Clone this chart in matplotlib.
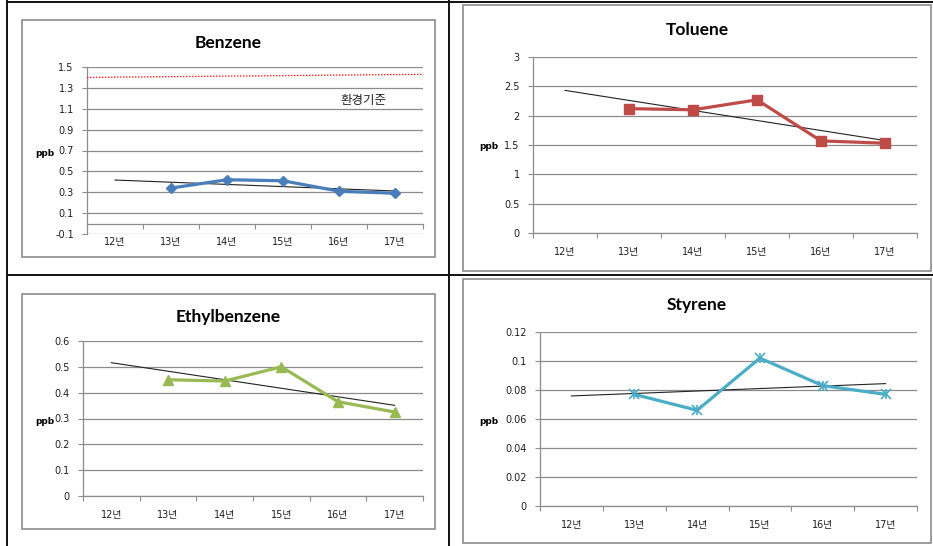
import numpy as np
import matplotlib
matplotlib.use("Agg")
import matplotlib.pyplot as plt
from matplotlib.lines import Line2D
from matplotlib.patches import Rectangle
from matplotlib.ticker import FuncFormatter

plt.rcParams['font.family'] = ['DejaVu Sans', 'Noto Sans CJK KR']

years = ['12년', '13년', '14년', '15년', '16년', '17년']

# annual averages (ppb), no survey in 12년
benzene = [np.nan, 0.34, 0.42, 0.41, 0.31, 0.29]
toluene = [np.nan, 2.12, 2.10, 2.27, 1.57, 1.53]
ethylbenzene = [np.nan, 0.45, 0.445, 0.50, 0.365, 0.325]
styrene = [np.nan, 0.077, 0.066, 0.102, 0.083, 0.077]

# benzene environmental standard line (start, end)
benzene_std = [1.40, 1.43]
std_label = '환경기준'

W, H = 933, 546
fig = plt.figure(figsize=(W / 100, H / 100), dpi=100)


def px_axes(left, top, right, bottom):
    return fig.add_axes([left / W, 1 - bottom / H, (right - left) / W, (bottom - top) / H])


def fig_text(x, y, s, **kw):
    fig.text(x / W, 1 - y / H, s, ha='center', va='center', **kw)


def draw_chart(box, area, title, title_xy, ppb_xy, values, ylim, ystep, color, marker, msize):
    # chart frame
    bx0, by0, bx1, by1 = box
    fig.patches.append(Rectangle((bx0 / W, 1 - by1 / H), (bx1 - bx0) / W, (by1 - by0) / H,
                                 transform=fig.transFigure, fill=False,
                                 edgecolor='#8c8c8c', lw=1.2))
    ax = px_axes(*area)
    x = np.arange(len(years))
    y = np.array(values, dtype=float)
    ok = ~np.isnan(y)

    ax.set_xlim(-0.5, len(years) - 0.5)
    ax.set_ylim(*ylim)
    yt = np.arange(ylim[0], ylim[1] + ystep / 2, ystep)
    ax.set_yticks(yt)
    ax.yaxis.set_major_formatter(FuncFormatter(lambda v, p: f'{v:g}'))
    ax.grid(axis='y', color='#8c8c8c', lw=0.9)
    ax.set_axisbelow(True)

    for s in ['top', 'right']:
        ax.spines[s].set_visible(False)
    for s in ['left', 'bottom']:
        ax.spines[s].set_color('#8c8c8c')
        ax.spines[s].set_linewidth(0.9)
    ax.spines['bottom'].set_position(('data', 0))

    ax.set_xticks(np.arange(-0.5, len(years)), [''] * (len(years) + 1))
    ax.set_xticks(x, years, minor=True)
    ax.tick_params(axis='x', which='major', length=3.5, color='#8c8c8c', direction='out')
    ax.tick_params(axis='x', which='minor', length=0, pad=10, labelsize=7, labelcolor='#1e1e1e')
    ax.tick_params(axis='y', length=3.5, color='#8c8c8c', pad=6, labelsize=7, labelcolor='#1e1e1e')

    # linear trend over the surveyed years, drawn across all categories
    k, b = np.polyfit(x[ok], y[ok], 1)
    ax.plot(x, k * x + b, color='#222222', lw=0.8, zorder=3)

    if marker == 'star':
        ax.plot(x, y, color=color, lw=2.3, zorder=4)
        ax.plot(x, y, ls='none', marker='x', ms=msize, mew=1.2, color=color, zorder=5)
        ax.plot(x, y, ls='none', marker='|', ms=msize * 1.2, mew=1.2, color=color, zorder=5)
    else:
        ax.plot(x, y, color=color, lw=2.3, marker=marker, ms=msize, zorder=4)

    fig_text(*title_xy, title, fontsize=12.5, fontweight='bold', family=['Lato', 'Noto Sans CJK KR'])
    fig_text(*ppb_xy, 'ppb', fontsize=6.5, fontweight='bold')
    return ax


ax_b = draw_chart((22, 20, 435, 257), (87, 67, 423, 234), 'Benzene', (228, 43), (45, 153),
                  benzene, (-0.1, 1.5), 0.2, '#4a7ebb', 'D', 5.5)
ax_b.plot(ax_b.get_xlim(), benzene_std, color='#ff2020', ls=(0, (1.2, 1.2)), lw=0.9, zorder=3)
ax_b.text(4.43, 1.18, std_label, ha='center', va='center', fontsize=9,
          family=['Noto Sans CJK KR'], color='#222222')

draw_chart((463, 5, 931, 271), (533, 57, 917, 233), 'Toluene', (697, 30), (489, 147),
           toluene, (0, 3), 0.5, '#be4b48', 's', 6.5)

draw_chart((22, 294, 435, 529), (83, 341, 423, 496), 'Ethylbenzene', (228, 317), (45, 421),
           ethylbenzene, (0, 0.6), 0.1, '#98b954', '^', 7)

draw_chart((463, 279, 931, 543), (540, 332, 917, 506), 'Styrene', (697, 305), (489, 422),
           styrene, (0, 0.12), 0.02, '#4bacc6', 'star', 6.5)

# page table rules
rules = [((7, 933), (1.5, 1.5)), ((7.5, 7.5), (1, 546)), ((449, 449), (1, 546)),
         ((7, 933), (275, 275))]
for xs, ys in rules:
    fig.lines.append(Line2D([v / W for v in xs], [1 - v / H for v in ys],
                            transform=fig.transFigure, color='#111111', lw=1.4))

fig.savefig('out.png', dpi=100)
